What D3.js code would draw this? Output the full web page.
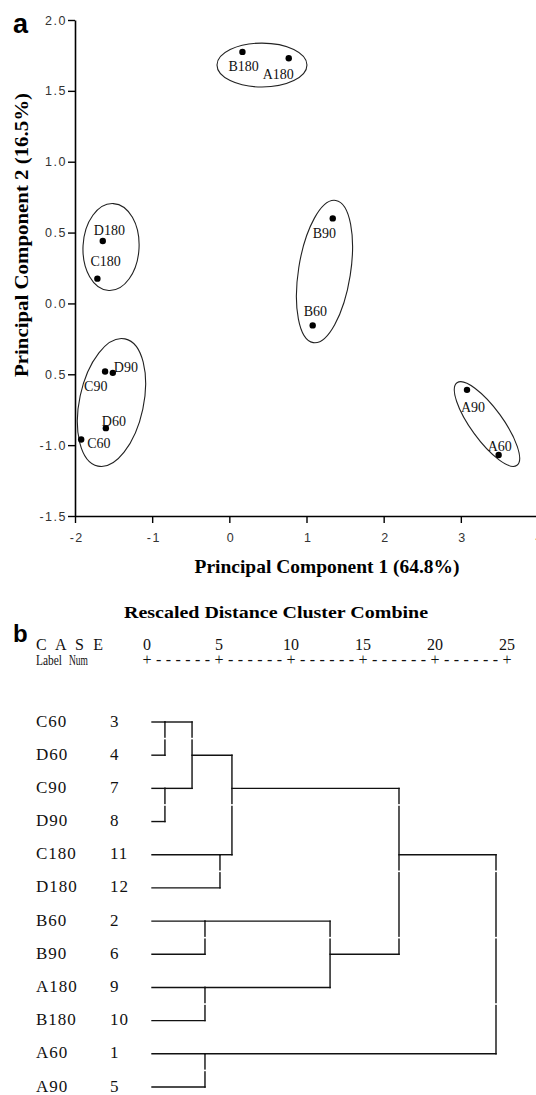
<!DOCTYPE html>
<html>
<head>
<meta charset="utf-8">
<script src="https://cdn.jsdelivr.net/npm/d3@7"></script>
<style>
  body { margin: 0; background: #fff; }
  svg { display: block; }
</style>
</head>
<body>
<div id="chart"></div>
<script>
// ---- panel a : PCA scores ----
const samples = ["B180", "A180", "D180", "C180", "B90", "B60", "D90", "C90", "D60", "C60", "A90", "A60"];
const pc1 = [0.17, 0.77, -1.64, -1.71, 1.34, 1.08, -1.51, -1.61, -1.60, -1.92, 3.08, 3.49];
const pc2 = [1.775, 1.73, 0.44, 0.175, 0.60, -0.155, -0.49, -0.48, -0.88, -0.96, -0.61, -1.07];
const xTicks = [-2, -1, 0, 1, 2, 3, 4];
const xTickLabels = ["-2", "-1", "0", "1", "2", "3", "4"];
const yTicks = [-1.5, -1, -0.5, 0, 0.5, 1, 1.5, 2];
const yTickLabels = ["-1.5", "-1.0", "0.5", "0.0", "0.5", "1.0", "1.5", "2.0"];
// group ellipses: centre in (pc1, pc2), radii in pc1 / pc2 units, tilt in degrees
const groupCx = [0.423, -1.533, 1.233, -1.527, 3.339];
const groupCy = [1.682, 0.398, 0.225, -0.699, -0.851];
const groupRx = [0.583, 0.363, 0.337, 0.415, 0.207];
const groupRy = [0.155, 0.307, 0.508, 0.459, 0.36];
const groupTilt = [0, 3, 9, 12, -36];

// ---- panel b : dendrogram ----
const caseLabels = ["C60", "D60", "C90", "D90", "C180", "D180", "B60", "B90", "A180", "B180", "A60", "A90"];
const caseNums = [3, 4, 7, 8, 11, 12, 2, 6, 9, 10, 1, 5];
// [left id, right id, rescaled distance]; ids 0-11 are cases, 12+ are merges in order
const merges = [
  [0, 1, 0.94], [2, 3, 0.94], [12, 13, 2.91], [6, 7, 3.85], [8, 9, 3.85], [10, 11, 3.85],
  [4, 5, 4.94], [14, 18, 5.81], [15, 16, 12.94], [19, 20, 17.95], [21, 17, 25]
];
const distTicks = [0, 5, 10, 15, 20, 25];

// label placement next to each point (px)
const labelOffset = {
  B180: [-14, 19], A180: [-26, 21], D180: [-9, -6], C180: [-7, -13],
  B90: [-20, 20], B60: [-9, -9], D90: [1, -1], C90: [-21, 20],
  D60: [-4, -2], C60: [6, 9], A90: [-6, 22], A60: [-11, -4]
};

const W = 536, H = 1095;
const serif = "'Liberation Serif', 'Times New Roman', serif";
const sans = "'Liberation Sans', Arial, sans-serif";

const svg = d3.select("#chart").append("svg")
  .attr("width", W)
  .attr("height", H);

// ================= panel a =================
const x = d3.scaleLinear().domain([-2, 4]).range([75, 538]);
const y = d3.scaleLinear().domain([-1.5, 2]).range([516, 20]);

svg.append("text")
  .attr("x", 13).attr("y", 33)
  .attr("font-family", sans).attr("font-weight", "bold").attr("font-size", 27)
  .text("a");

const yAxis = svg.append("g")
  .attr("transform", "translate(" + x(-2) + ",0)")
  .call(d3.axisLeft(y).tickValues(yTicks).tickSize(7).tickSizeOuter(0).tickPadding(1)
    .tickFormat((d, i) => yTickLabels[i]));

const xAxis = svg.append("g")
  .attr("transform", "translate(0," + y(-1.5) + ")")
  .call(d3.axisBottom(x).tickValues(xTicks).tickSize(7).tickSizeOuter(0).tickPadding(10)
    .tickFormat((d, i) => xTickLabels[i]));

[xAxis, yAxis].forEach(ax => {
  ax.select(".domain").attr("stroke", "#000").attr("stroke-width", 1.6);
  ax.selectAll(".tick line").attr("stroke", "#000").attr("stroke-width", 1.4);
  ax.selectAll(".tick text")
    .attr("font-family", sans).attr("font-size", 12.5)
    .attr("letter-spacing", "1.5px").attr("fill", "#333");
});
xAxis.selectAll(".tick text").attr("dx", "0.1em");

// axis titles
svg.append("text")
  .attr("transform", "translate(28,235) rotate(-90)")
  .attr("text-anchor", "middle")
  .attr("font-family", serif).attr("font-weight", "bold").attr("font-size", 19)
  .attr("textLength", 284).attr("lengthAdjust", "spacingAndGlyphs")
  .text("Principal Component 2 (16.5%)");

svg.append("text")
  .attr("x", 327).attr("y", 573)
  .attr("text-anchor", "middle")
  .attr("font-family", serif).attr("font-weight", "bold").attr("font-size", 19)
  .attr("textLength", 265).attr("lengthAdjust", "spacingAndGlyphs")
  .text("Principal Component 1 (64.8%)");

// group ellipses
const kx = x(1) - x(0), ky = y(0) - y(1);
svg.append("g").selectAll("ellipse")
  .data(groupCx.map((c, i) => i))
  .enter().append("ellipse")
  .attr("transform", i => "translate(" + x(groupCx[i]) + "," + y(groupCy[i]) + ") rotate(" + groupTilt[i] + ")")
  .attr("rx", i => groupRx[i] * kx)
  .attr("ry", i => groupRy[i] * ky)
  .attr("fill", "none")
  .attr("stroke", "#222")
  .attr("stroke-width", 1.1);

// points and labels
const pts = samples.map((s, i) => ({ name: s, a: pc1[i], b: pc2[i] }));
svg.append("g").selectAll("circle")
  .data(pts).enter().append("circle")
  .attr("cx", d => x(d.a))
  .attr("cy", d => y(d.b))
  .attr("r", 3.2)
  .attr("fill", "#000");

svg.append("g").selectAll("text")
  .data(pts).enter().append("text")
  .attr("x", d => x(d.a) + labelOffset[d.name][0])
  .attr("y", d => y(d.b) + labelOffset[d.name][1])
  .attr("font-family", serif).attr("font-size", 14)
  .attr("fill", "#111")
  .text(d => d.name);

// ================= panel b =================
const xh = d3.scaleLinear().domain([0, 25]).range([147, 507]);   // header scale
const xd = d3.scaleLinear().domain([0, 25]).range([152, 496]);   // tree scale
const yd = d3.scaleLinear().domain([0, caseLabels.length - 1]).range([722, 1087]);

svg.append("text")
  .attr("x", 13).attr("y", 642)
  .attr("font-family", sans).attr("font-weight", "bold").attr("font-size", 24)
  .text("b");

svg.append("text")
  .attr("x", 124).attr("y", 618)
  .attr("font-family", serif).attr("font-weight", "bold").attr("font-size", 16)
  .attr("textLength", 304).attr("lengthAdjust", "spacingAndGlyphs")
  .text("Rescaled Distance Cluster Combine");

const hdr = svg.append("g")
  .attr("font-family", serif).attr("font-size", 16).attr("fill", "#111");

hdr.append("text").attr("x", 36).attr("y", 650)
  .attr("textLength", 67).attr("lengthAdjust", "spacing")
  .text("C A S E");
hdr.append("text").attr("x", 36).attr("y", 665)
  .attr("font-size", 15).attr("textLength", 26).attr("lengthAdjust", "spacingAndGlyphs")
  .text("Label");
hdr.append("text").attr("x", 69).attr("y", 665)
  .attr("font-size", 15).attr("textLength", 19).attr("lengthAdjust", "spacingAndGlyphs")
  .text("Num");

hdr.selectAll(".num").data(distTicks).enter().append("text")
  .attr("class", "num")
  .attr("x", d => xh(d)).attr("y", 650)
  .attr("text-anchor", "middle")
  .text(d => d);

hdr.selectAll(".plus").data(distTicks).enter().append("text")
  .attr("class", "plus")
  .attr("x", d => xh(d)).attr("y", 665)
  .attr("text-anchor", "middle")
  .text("+");

hdr.selectAll(".dash").data(distTicks.slice(1)).enter().append("text")
  .attr("class", "dash")
  .attr("x", d => (xh(d) + xh(d - 5)) / 2).attr("y", 665)
  .attr("text-anchor", "middle")
  .attr("textLength", 54).attr("lengthAdjust", "spacing")
  .text("------");

// case labels and numbers
const rows = svg.append("g")
  .attr("font-family", serif).attr("font-size", 17)
  .attr("letter-spacing", "1px").attr("fill", "#111");
rows.selectAll(".lab").data(caseLabels).enter().append("text")
  .attr("x", 36).attr("y", (d, i) => yd(i) + 4.5)
  .text(d => d);
rows.selectAll(".cn").data(caseNums).enter().append("text")
  .attr("x", 110).attr("y", (d, i) => yd(i) + 4.5)
  .text(d => d);

// tree
const nodes = caseLabels.map((c, i) => ({ row: i, h: null }));
const segs = [];
merges.forEach(m => {
  const a = nodes[m[0]], b = nodes[m[1]];
  const hx = xd(m[2]);
  [a, b].forEach(n => {
    const x0 = n.h === null ? xd(0) : xd(n.h);
    segs.push([x0, yd(n.row), hx, yd(n.row)]);
  });
  segs.push([hx, yd(a.row), hx, yd(b.row)]);
  nodes.push({ row: Math.floor((a.row + b.row) / 2), h: m[2] });
});

svg.append("g").selectAll("line")
  .data(segs).enter().append("line")
  .attr("x1", d => d[0]).attr("y1", d => d[1])
  .attr("x2", d => d[2]).attr("y2", d => d[3])
  .attr("stroke", "#111")
  .attr("stroke-width", 1.4)
  .attr("stroke-linecap", "square");

// small breaks in the vertical strokes between paired rows (character-cell look)
svg.append("g").selectAll("rect")
  .data(d3.range(0, caseLabels.length, 2)).enter().append("rect")
  .attr("x", xd(0) + 10).attr("width", xd(25) - xd(0))
  .attr("y", i => (yd(i) + yd(i + 1)) / 2 - 0.8)
  .attr("height", 1.6)
  .attr("fill", "#fff");
</script>
</body>
</html>
